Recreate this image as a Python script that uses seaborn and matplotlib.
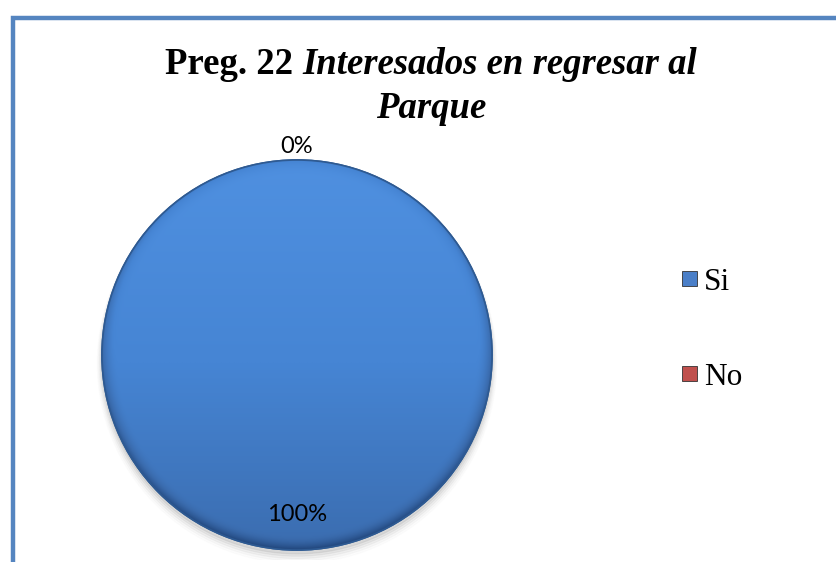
import matplotlib
matplotlib.use("Agg")
import matplotlib.pyplot as plt
import numpy as np
import seaborn as sns
from matplotlib.colors import LinearSegmentedColormap
from matplotlib.patches import Rectangle

sns.set_theme(style="white")

categories = ["Si", "No"]
values = [100, 0]
pct_labels = ["100%", "0%"]

title_plain = "Preg. 22 "
title_italic = "Interesados en regresar al"
title_line2 = "Parque"

blue = "#4A7FC8"
red = "#C0504D"
frame_blue = "#5585C0"

W, H = 837, 562
fig = plt.figure(figsize=(W / 100, H / 100), dpi=100)
fig.patch.set_facecolor("white")

# chart frame (runs off the right and bottom edges)
frame = Rectangle((13 / W, -0.05), 1.2, 1 - 18 / H + 0.05, transform=fig.transFigure,
                  fill=False, edgecolor=frame_blue, linewidth=3.2)
fig.add_artist(frame)

# title: plain bold part + bold italic part on line 1, bold italic line 2
renderer = fig.canvas.get_renderer()
tsize = 26.5
t1 = fig.text(0, 0, title_plain, fontsize=tsize, fontweight="bold", family="Liberation Serif",
              color="black")
t2 = fig.text(0, 0, title_italic, fontsize=tsize, fontweight="bold", style="italic",
              family="Liberation Serif", color="black")
w1 = t1.get_window_extent(renderer).width
w2 = t2.get_window_extent(renderer).width
cx = 431
x0 = cx - (w1 + w2) / 2
base1 = H - 74
t1.set_position((x0 / W, base1 / H))
t2.set_position(((x0 + w1) / W, base1 / H))
t1.set_va("baseline")
t2.set_va("baseline")
fig.text(cx / W, (H - 118) / H, title_line2, fontsize=tsize, fontweight="bold", style="italic",
         family="Liberation Serif", ha="center", va="baseline", color="black")

# pie
r = 195
pcx, pcy = 297, H - 355
ax = fig.add_axes([(pcx - r) / W, (pcy - r) / H, 2 * r / W, 2 * r / H])
wedges, _ = ax.pie(values, colors=[blue, red], startangle=90, counterclock=False,
                   wedgeprops=dict(edgecolor="#2E5A92", linewidth=1.2))
ax.set_position([(pcx - r * 1.05) / W, (pcy - r * 1.05) / H, 2.1 * r / W, 2.1 * r / H])

# soft shadow under the pie
for i, a in enumerate(np.linspace(0.05, 0.01, 5)):
    sh = plt.Circle((0.0, -0.02 - i * 0.006), 1.0 + i * 0.006, color="black", alpha=a, zorder=0)
    ax.add_patch(sh)

# gradient shading clipped to the filled wedge
yy, xx = np.mgrid[1:-1:300j, -1:1:300j]
rr = np.sqrt(xx ** 2 + yy ** 2)
shade = 0.55 + 0.45 * (yy + 1) / 2
shade = shade - 0.25 * np.clip((rr - 0.92) / 0.08, 0, 1) ** 2
cmap = LinearSegmentedColormap.from_list("pieblue", ["#22477D", "#3A6BAD", "#4685D4", "#4F90E0"])
for w, v in zip(wedges, values):
    if v <= 0:
        continue
    im = ax.imshow(shade, cmap=cmap, vmin=0.3, vmax=1.0, extent=(-1, 1, -1, 1),
                   zorder=w.get_zorder() + 0.1, interpolation="bilinear")
    im.set_clip_path(w)
    outline = plt.Circle((0, 0), 1.0, fill=False, edgecolor="#2E5A92", linewidth=1.2,
                         zorder=w.get_zorder() + 0.2)
    ax.add_patch(outline)

# percentage labels
for w, v, lab in zip(wedges, values, pct_labels):
    ang = np.deg2rad((w.theta1 + w.theta2) / 2)
    dist = 0.82 if v > 0 else 1.07
    ax.text(dist * np.cos(ang), dist * np.sin(ang), lab, ha="center", va="center",
            fontsize=17, family="Lato", color="black", zorder=10)
ax.set_xlim(-1.05, 1.05)
ax.set_ylim(-1.05, 1.05)
ax.axis("off")

# legend
leg_colors = [blue, red]
leg_y = [278, 373]
for cat, col, ly in zip(categories, leg_colors, leg_y):
    fig.add_artist(Rectangle((682 / W, (H - ly - 7.5) / H), 15 / W, 15 / H,
                             transform=fig.transFigure, facecolor=col,
                             edgecolor="#333333", linewidth=0.6))
    fig.text(704 / W, (H - ly - 12) / H, cat, fontsize=22.5, family="Liberation Serif",
             color="black", va="baseline", ha="left")

fig.savefig("out.png", dpi=100)
